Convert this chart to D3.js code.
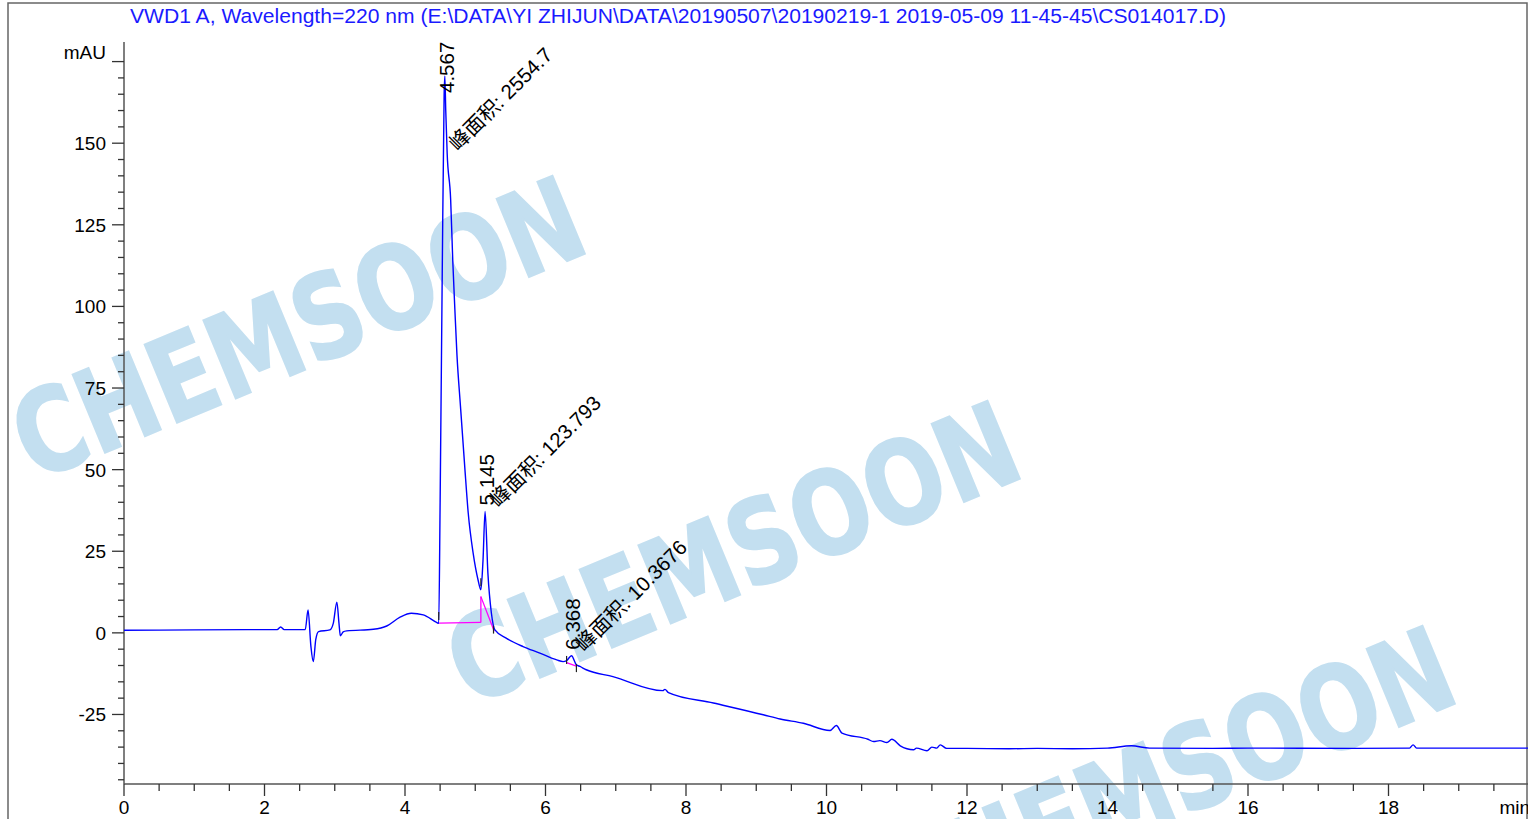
<!DOCTYPE html>
<html>
<head>
<meta charset="utf-8">
<script src="https://cdn.jsdelivr.net/npm/d3@7"></script>
<style>
  body { margin: 0; background: #fff; }
  svg { display: block; font-family: "Liberation Sans", Arial, sans-serif; }
</style>
</head>
<body>
<svg width="1528" height="819"></svg>
<script>
var title = "VWD1 A, Wavelength=220 nm (E:\\DATA\\YI ZHIJUN\\DATA\\20190507\\20190219-1 2019-05-09 11-45-45\\CS014017.D)";

// trace: retention time (min) and signal (mAU)
var times = [0, 1, 2, 2.18, 2.23, 2.28, 2.58, 2.62, 2.66, 2.695, 2.73, 2.77, 2.93, 2.98, 3.03, 3.06, 3.08, 3.12, 3.17,
  3.55, 3.74, 3.93, 4.09, 4.26, 4.45, 4.48, 4.5, 4.53, 4.557, 4.567, 4.58, 4.6, 4.65, 4.68, 4.71, 4.74, 4.79, 4.85, 4.9, 4.97,
  5.04, 5.08, 5.11, 5.14, 5.18, 5.23, 5.28, 5.44, 5.68, 5.92, 6.16, 6.25, 6.3, 6.37, 6.44, 6.49, 6.58, 6.96, 7.67, 7.7, 7.75,
  8.39, 9.1, 9.34, 9.67, 10.05, 10.14, 10.22, 10.59, 10.67, 10.76, 10.86, 10.93, 11.05, 11.24, 11.28, 11.43, 11.5, 11.57,
  11.62, 11.71, 12, 12.6, 13, 13.5, 14, 14.34, 14.6, 15.5, 16, 17.5, 18.3, 18.35, 18.4, 19.3, 20];
var signal = [0.8, 0.9, 1.0, 1.0, 1.8, 1.0, 1.0, 7.0, -4, -8.8, -2, 0.4, 0.9, 3, 9.4, 3, -0.9, 0.3, 0.6,
  1.1, 2.1, 4.8, 6.0, 5.5, 3.2, 2.9, 40, 110, 165, 170.5, 160, 147, 132.7, 114, 99, 85, 69.3, 51, 36.7, 24.4,
  16.2, 13.2, 22, 37.2, 18.3, 6.0, 0.9, -1.6, -4.2, -6.2, -8.3, -8.8, -8.5, -7.0, -9.8, -10.3, -11.3, -13.4, -17.7, -17.3, -18.3,
  -21.5, -25.1, -26.4, -27.7, -29.9, -28.4, -30.7, -32.6, -33.3, -33.0, -33.6, -32.6, -34.6, -35.8, -35.3, -36.1, -35.0, -35.3,
  -34.3, -35.4, -35.4, -35.5, -35.4, -35.5, -35.3, -34.6, -35.3, -35.4, -35.3, -35.4, -35.3, -34.3, -35.3, -35.3, -35.3];

// integrated peaks
var peakTimes = [4.567, 5.145, 6.368];
var peakApex = [170.5, 37.2, -7.0];
var peakAreas = ["2554.7", "123.793", "10.3676"];

// baselines drawn by the integrator [t1, v1, t2, v2]
var baselines = [[4.48, 3.0, 5.08, 3.2], [5.08, 3.2, 5.08, 11.1], [5.08, 11.1, 5.27, 0.5], [6.3, -9.1, 6.44, -10.2]];
// start / end marks of the integration
var markTimes = [4.48, 5.08, 5.26, 6.3, 6.44];
var markValues = [5.2, 15.5, 1.0, -8.3, -10.8];

var xTicks = [0, 2, 4, 6, 8, 10, 12, 14, 16, 18];
var yTicks = [-25, 0, 25, 50, 75, 100, 125, 150];

var svg = d3.select("svg");

var x = d3.scaleLinear().domain([0, 20]).range([124, 1529]);
var y = d3.scaleLinear().domain([-46.3, 181]).range([784, 42]);

// watermark
var wm = svg.append("g");
[[34, 482], [469, 707], [904, 932]].forEach(function (p) {
  wm.append("text")
    .attr("transform", "translate(" + p[0] + "," + p[1] + ") rotate(-22.5)")
    .attr("textLength", 605)
    .attr("lengthAdjust", "spacingAndGlyphs")
    .style("font-family", "'DejaVu Sans', sans-serif")
    .style("font-weight", "bold")
    .style("font-size", "116px")
    .attr("fill", "#c3dff0")
    .attr("stroke", "#c3dff0")
    .attr("stroke-width", 2)
    .text("CHEMSOON");
});

// frame
svg.append("rect")
  .attr("x", 8).attr("y", 3).attr("width", 1519).attr("height", 830)
  .attr("fill", "none").attr("stroke", "#666").attr("stroke-width", 1.5);

svg.append("text")
  .attr("x", 130).attr("y", 23)
  .attr("fill", "#1a1aff")
  .attr("textLength", 1096)
  .attr("lengthAdjust", "spacingAndGlyphs")
  .style("font-size", "20.5px")
  .text(title);

// axes
var xAxis = svg.append("g").attr("transform", "translate(0,784)");
xAxis.append("line").attr("x1", 124).attr("x2", 1529).attr("stroke", "#555").attr("stroke-width", 1.5);
xAxis.selectAll(".minor").data(d3.range(0.5, 20, 0.5)).enter().append("line")
  .attr("x1", function (d) { return x(d); }).attr("x2", function (d) { return x(d); })
  .attr("y1", 0).attr("y2", function (d) { return d % 2 === 0 ? 12 : 7; })
  .attr("stroke", "#333").attr("stroke-width", 1.3);
xAxis.append("line").attr("x1", x(0)).attr("x2", x(0)).attr("y1", 0).attr("y2", 12).attr("stroke", "#333").attr("stroke-width", 1.3);
xAxis.selectAll(".lab").data(xTicks).enter().append("text")
  .attr("x", function (d) { return x(d); }).attr("y", 30)
  .attr("text-anchor", "middle").style("font-size", "19px")
  .text(function (d) { return d; });
xAxis.append("text").attr("x", 1530).attr("y", 30).attr("text-anchor", "end").style("font-size", "19px").text("min");

var yAxis = svg.append("g");
yAxis.append("line").attr("x1", 124).attr("x2", 124).attr("y1", 42).attr("y2", 784).attr("stroke", "#555").attr("stroke-width", 1.5);
yAxis.selectAll(".minor").data(d3.range(-45, 180, 5)).enter().append("line")
  .attr("x1", function (d) { return d % 25 === 0 ? 112 : 118; }).attr("x2", 124)
  .attr("y1", function (d) { return y(d); }).attr("y2", function (d) { return y(d); })
  .attr("stroke", "#333").attr("stroke-width", 1.3);
yAxis.selectAll(".lab").data(yTicks).enter().append("text")
  .attr("x", 106).attr("y", function (d) { return y(d) + 7; })
  .attr("text-anchor", "end").style("font-size", "19px")
  .text(function (d) { return d; });
yAxis.append("text").attr("x", 106).attr("y", y(175) - 3).attr("text-anchor", "end").style("font-size", "19px").text("mAU");

// baselines
svg.selectAll(".base").data(baselines).enter().append("line")
  .attr("x1", function (d) { return x(d[0]); }).attr("y1", function (d) { return y(d[1]); })
  .attr("x2", function (d) { return x(d[2]); }).attr("y2", function (d) { return y(d[3]); })
  .attr("stroke", "#ff00ff").attr("stroke-width", 1.3);

// trace
var line = d3.line()
  .curve(d3.curveMonotoneX)
  .x(function (d, i) { return x(times[i]); })
  .y(function (d) { return y(d); });
svg.append("path").datum(signal)
  .attr("d", line)
  .attr("fill", "none").attr("stroke", "#0000ff").attr("stroke-width", 1.4);

svg.selectAll(".mark").data(markTimes).enter().append("line")
  .attr("x1", function (d) { return x(d); }).attr("x2", function (d) { return x(d); })
  .attr("y1", function (d, i) { return y(markValues[i]) - 4; })
  .attr("y2", function (d, i) { return y(markValues[i]) + 4; })
  .attr("stroke", "#222").attr("stroke-width", 1.2);

// peak labels
var labels = svg.selectAll(".peak").data(peakTimes).enter().append("g");
labels.append("text")
  .attr("transform", function (d, i) {
    var py = Math.max(y(peakApex[i]) - 6, 93);
    return "translate(" + (x(d) + 9) + "," + py + ") rotate(-90)";
  })
  .style("font-size", "20.5px")
  .text(function (d) { return d.toFixed(3); });
labels.append("text")
  .attr("transform", function (d, i) {
    var py = Math.max(y(peakApex[i]) - 3, 152);
    return "translate(" + (x(d) + 13) + "," + py + ") rotate(-45)";
  })
  .style("font-size", "20.5px")
  .style("font-family", "'Liberation Sans', 'Noto Sans CJK SC', sans-serif")
  .text(function (d, i) { return "\u5cf0\u9762\u79ef: " + peakAreas[i]; });
</script>
</body>
</html>
